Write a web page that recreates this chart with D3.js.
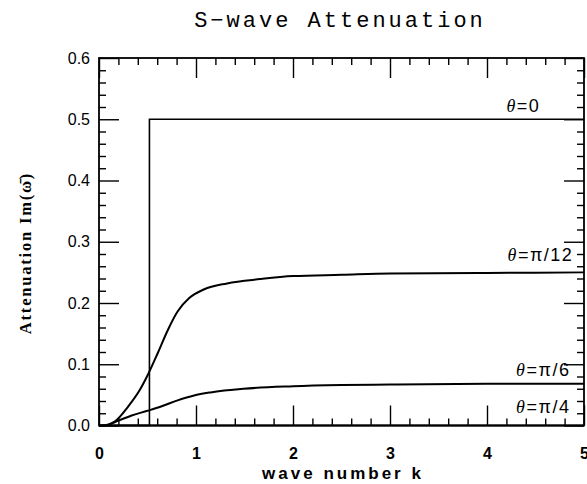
<!DOCTYPE html>
<html>
<head>
<meta charset="utf-8">
<script src="https://cdn.jsdelivr.net/npm/d3@7"></script>
<style>
  body { margin: 0; background: #fff; }
  svg { display: block; }
</style>
</head>
<body>
<div id="chart"></div>
<script>
// curve data
var kZero   = [0, 0.52, 0.52, 5];
var attZero = [0, 0, 0.5, 0.5];

var kPi12   = [0, 0.03, 0.165, 0.30, 0.42, 0.51, 0.605, 0.71, 0.81, 0.93, 1.08, 1.32, 1.66, 2.0, 2.5, 3.0, 4.0, 5.0];
var attPi12 = [0, 0, 0.007, 0.031, 0.058, 0.085, 0.118, 0.156, 0.186, 0.208, 0.222, 0.232, 0.239, 0.244, 0.246, 0.248, 0.249, 0.25];

var kPi6    = [0, 0.06, 0.2, 0.33, 0.5, 0.64, 0.81, 0.98, 1.15, 1.49, 2.0, 2.5, 3.0, 4.0, 5.0];
var attPi6  = [0, 0, 0.008, 0.016, 0.024, 0.031, 0.041, 0.049, 0.054, 0.06, 0.064, 0.066, 0.067, 0.068, 0.068];

var kPi4    = [0, 5];
var attPi4  = [0, 0];

var seriesNames = ["0", "π/12", "π/6", "π/4"];
var xTicks = [0, 1, 2, 3, 4, 5];
var yTicks = [0, 0.1, 0.2, 0.3, 0.4, 0.5, 0.6];

var W = 587, H = 484;
var svg = d3.select("#chart").append("svg")
    .attr("width", W)
    .attr("height", H);

var x = d3.scaleLinear().domain([0, 5]).range([99, 584]);
var y = d3.scaleLinear().domain([0, 0.6]).range([425.5, 58]);

var minorX = d3.range(0, 5.001, 0.2).filter(function(v) { return Math.abs(v - Math.round(v)) > 1e-6; });
var minorY = d3.range(0, 0.6001, 0.02).filter(function(v) { return Math.abs(v * 10 - Math.round(v * 10)) > 1e-6; });

function styleAxis(g) {
    g.select(".domain").remove();
    g.selectAll("line").attr("stroke", "#000").attr("stroke-width", 1.4);
}

// bottom axis (labels) + minor
svg.append("g").attr("transform", "translate(0," + y(0) + ")")
    .call(d3.axisBottom(x).tickValues(xTicks).tickSize(-20).tickPadding(22).tickFormat(d3.format("d")))
    .call(styleAxis)
    .selectAll("text")
        .attr("font-family", "Liberation Sans, Arial, sans-serif")
        .attr("font-size", 16)
        .attr("font-weight", "bold")
        .attr("fill", "#000");
svg.append("g").attr("transform", "translate(0," + y(0) + ")")
    .call(d3.axisBottom(x).tickValues(minorX).tickSize(-7).tickFormat(""))
    .call(styleAxis);

// top axis
svg.append("g").attr("transform", "translate(0," + y(0.6) + ")")
    .call(d3.axisTop(x).tickValues(xTicks).tickSize(-20).tickFormat(""))
    .call(styleAxis);
svg.append("g").attr("transform", "translate(0," + y(0.6) + ")")
    .call(d3.axisTop(x).tickValues(minorX).tickSize(-7).tickFormat(""))
    .call(styleAxis);

// left axis
svg.append("g").attr("transform", "translate(" + x(0) + ",0)")
    .call(d3.axisLeft(y).tickValues(yTicks).tickSize(-20).tickPadding(9).tickFormat(d3.format(".1f")))
    .call(styleAxis)
    .selectAll("text")
        .attr("font-family", "Liberation Sans, Arial, sans-serif")
        .attr("font-size", 16)
        .attr("fill", "#000");
svg.append("g").attr("transform", "translate(" + x(0) + ",0)")
    .call(d3.axisLeft(y).tickValues(minorY).tickSize(-7).tickFormat(""))
    .call(styleAxis);

// right axis
svg.append("g").attr("transform", "translate(" + x(5) + ",0)")
    .call(d3.axisRight(y).tickValues(yTicks).tickSize(-20).tickFormat(""))
    .call(styleAxis);
svg.append("g").attr("transform", "translate(" + x(5) + ",0)")
    .call(d3.axisRight(y).tickValues(minorY).tickSize(-7).tickFormat(""))
    .call(styleAxis);

// frame
svg.append("rect")
    .attr("x", x(0)).attr("y", y(0.6))
    .attr("width", x(5) - x(0)).attr("height", y(0) - y(0.6))
    .attr("fill", "none").attr("stroke", "#000").attr("stroke-width", 1.8);

// curves
var lineStep = d3.line()
    .x(function(d) { return x(d[0]); })
    .y(function(d) { return y(d[1]); });
var lineSmooth = d3.line()
    .x(function(d) { return x(d[0]); })
    .y(function(d) { return y(d[1]); })
    .curve(d3.curveMonotoneX);

function pairs(ks, vs) { return ks.map(function(k, i) { return [k, vs[i]]; }); }

svg.append("path").datum(pairs(kZero, attZero))
    .attr("d", lineStep).attr("fill", "none").attr("stroke", "#000").attr("stroke-width", 1.6);
svg.append("path").datum(pairs(kPi12, attPi12))
    .attr("d", lineSmooth).attr("fill", "none").attr("stroke", "#000").attr("stroke-width", 2);
svg.append("path").datum(pairs(kPi6, attPi6))
    .attr("d", lineSmooth).attr("fill", "none").attr("stroke", "#000").attr("stroke-width", 2);
svg.append("path").datum(pairs(kPi4, attPi4))
    .attr("d", lineStep).attr("fill", "none").attr("stroke", "#000").attr("stroke-width", 2);

// curve labels (anchor positions in data units)
var labelAt = [[4.55, 0.512], [4.89, 0.269], [4.86, 0.081], [4.86, 0.020]];
seriesNames.forEach(function(name, i) {
    var t = svg.append("text")
        .attr("x", x(labelAt[i][0]))
        .attr("y", y(labelAt[i][1]))
        .attr("text-anchor", "end")
        .attr("font-family", "Liberation Sans, Arial, sans-serif")
        .attr("font-size", 18)
        .attr("letter-spacing", 1.5)
        .attr("fill", "#000");
    t.append("tspan").attr("font-style", "italic").attr("font-family", "Liberation Serif, serif").text("θ");
    t.append("tspan").text("=" + name);
});

// title
svg.append("text")
    .attr("x", 340).attr("y", 27)
    .attr("text-anchor", "middle")
    .attr("font-family", "Liberation Mono, DejaVu Sans Mono, monospace")
    .attr("font-size", 22)
    .attr("letter-spacing", 3)
    .attr("fill", "#000")
    .text("S−wave Attenuation");

// x label
svg.append("text")
    .attr("x", 343).attr("y", 479)
    .attr("text-anchor", "middle")
    .attr("font-family", "Liberation Sans, Arial, sans-serif")
    .attr("font-weight", "bold")
    .attr("font-size", 17)
    .attr("letter-spacing", 3)
    .attr("fill", "#000")
    .text("wave number k");

// y label
svg.append("text")
    .attr("transform", "translate(31,253) rotate(-90)")
    .attr("text-anchor", "middle")
    .attr("font-family", "Liberation Serif, serif")
    .attr("font-weight", "bold")
    .attr("font-size", 16.5)
    .attr("letter-spacing", 1.8)
    .attr("fill", "#000")
    .text("Attenuation Im(ω̄)");
</script>
</body>
</html>
